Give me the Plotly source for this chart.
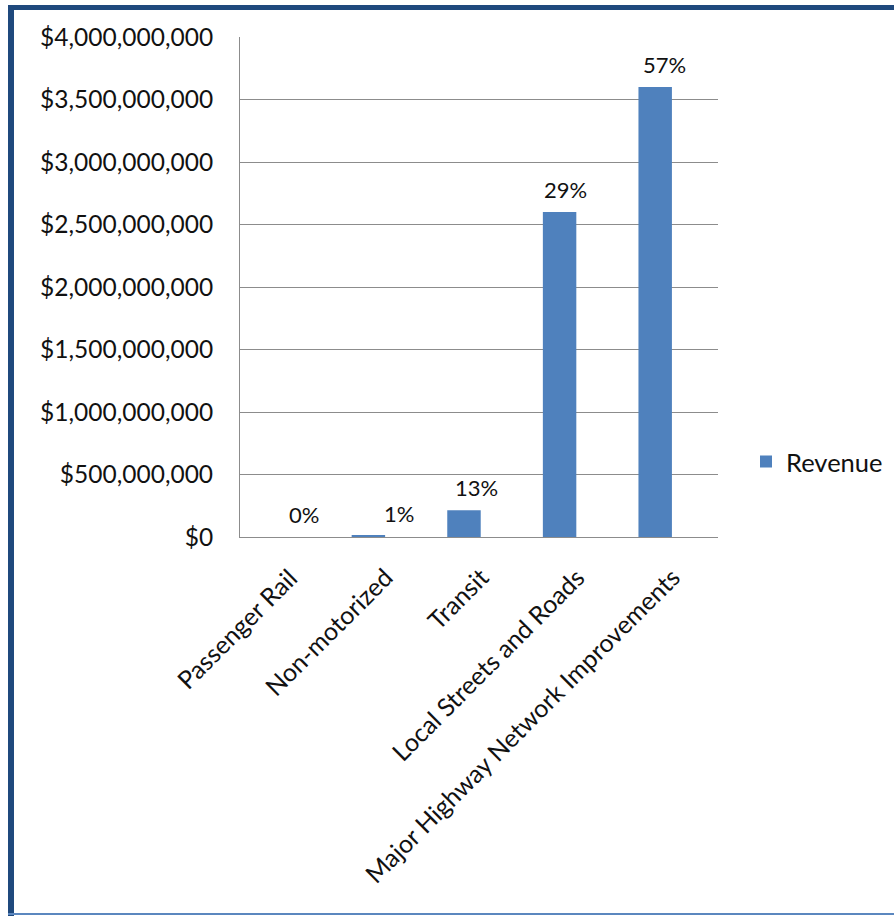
import plotly.graph_objects as go

categories = ["Passenger Rail", "Non-motorized", "Transit", "Local Streets and Roads",
              "Major Highway Network Improvements"]
revenue = [0, 12_000_000, 215_000_000, 2_600_000_000, 3_600_000_000]
pct_labels = ["0%", "1%", "13%", "29%", "57%"]
label_xshift = [31, 31, 13, 6, 9]
y_ticks = [0, 500_000_000, 1_000_000_000, 1_500_000_000, 2_000_000_000,
           2_500_000_000, 3_000_000_000, 3_500_000_000, 4_000_000_000]

W, H = 894, 916
L, R, T, B = 240, 718, 37, 537
FONT = "Lato"
BAR = "#4F81BD"
GRID = "#8C8C8C"
TXT = "#111111"

fig = go.Figure()
fig.add_trace(go.Bar(
    x=categories, y=revenue, name="Revenue",
    marker=dict(color=BAR, line=dict(width=0)),
    width=0.35, showlegend=True,
))

for cat, val, txt, dx in zip(categories, revenue, pct_labels, label_xshift):
    fig.add_annotation(x=cat, y=val, text=txt, showarrow=False,
                       yanchor="bottom", yshift=7, xshift=dx,
                       font=dict(family=FONT, size=22, color=TXT))

# category tick labels, rotated
for cat in categories:
    fig.add_annotation(x=cat, y=0, yref="y", text=cat, showarrow=False,
                       textangle=-45, xanchor="right", yanchor="top",
                       xshift=33, yshift=-22,
                       font=dict(family=FONT, size=25, color=TXT))

def px(x):
    return (x - L) / (R - L)

def py(y):
    return (B - y) / (B - T)

shapes = [
    dict(type="line", xref="paper", yref="paper", x0=px(8), x1=px(W), y0=py(7.5), y1=py(7.5),
         line=dict(color="#1F497D", width=5)),
    dict(type="line", xref="paper", yref="paper", x0=px(11), x1=px(11), y0=py(5), y1=py(H),
         line=dict(color="#1F497D", width=6)),
    dict(type="line", xref="paper", yref="paper", x0=px(8), x1=px(W), y0=py(914), y1=py(914),
         line=dict(color="#5B87BF", width=2)),
]

fig.update_layout(
    width=W, height=H,
    margin=dict(l=L, r=W - R, t=T, b=H - B, pad=0, autoexpand=False),
    paper_bgcolor="white", plot_bgcolor="white",
    font=dict(family=FONT, size=22, color=TXT),
    bargap=0.65,
    showlegend=True,
    legend=dict(x=px(746), y=py(462), xanchor="left", yanchor="middle",
                font=dict(family=FONT, size=25.5, color=TXT),
                bgcolor="rgba(0,0,0,0)", itemwidth=30, tracegroupgap=0),
    shapes=shapes,
    xaxis=dict(
        type="category", range=[-0.343, 4.657],
        showgrid=False, ticks="", showticklabels=False,
        showline=True, linecolor=GRID, linewidth=1,
    ),
    yaxis=dict(
        range=[0, 4_000_000_000], tickvals=y_ticks, tickformat="$,.0f",
        showgrid=True, gridcolor=GRID, gridwidth=1,
        showline=True, linecolor=GRID, linewidth=1,
        ticks="", zeroline=False,
        tickfont=dict(family=FONT, size=24.5, color=TXT),
        ticklabelstandoff=21,
    ),
)

fig.write_html("out.html", config={"displayModeBar": False},
               post_script="document.body.style.margin='0px';")
